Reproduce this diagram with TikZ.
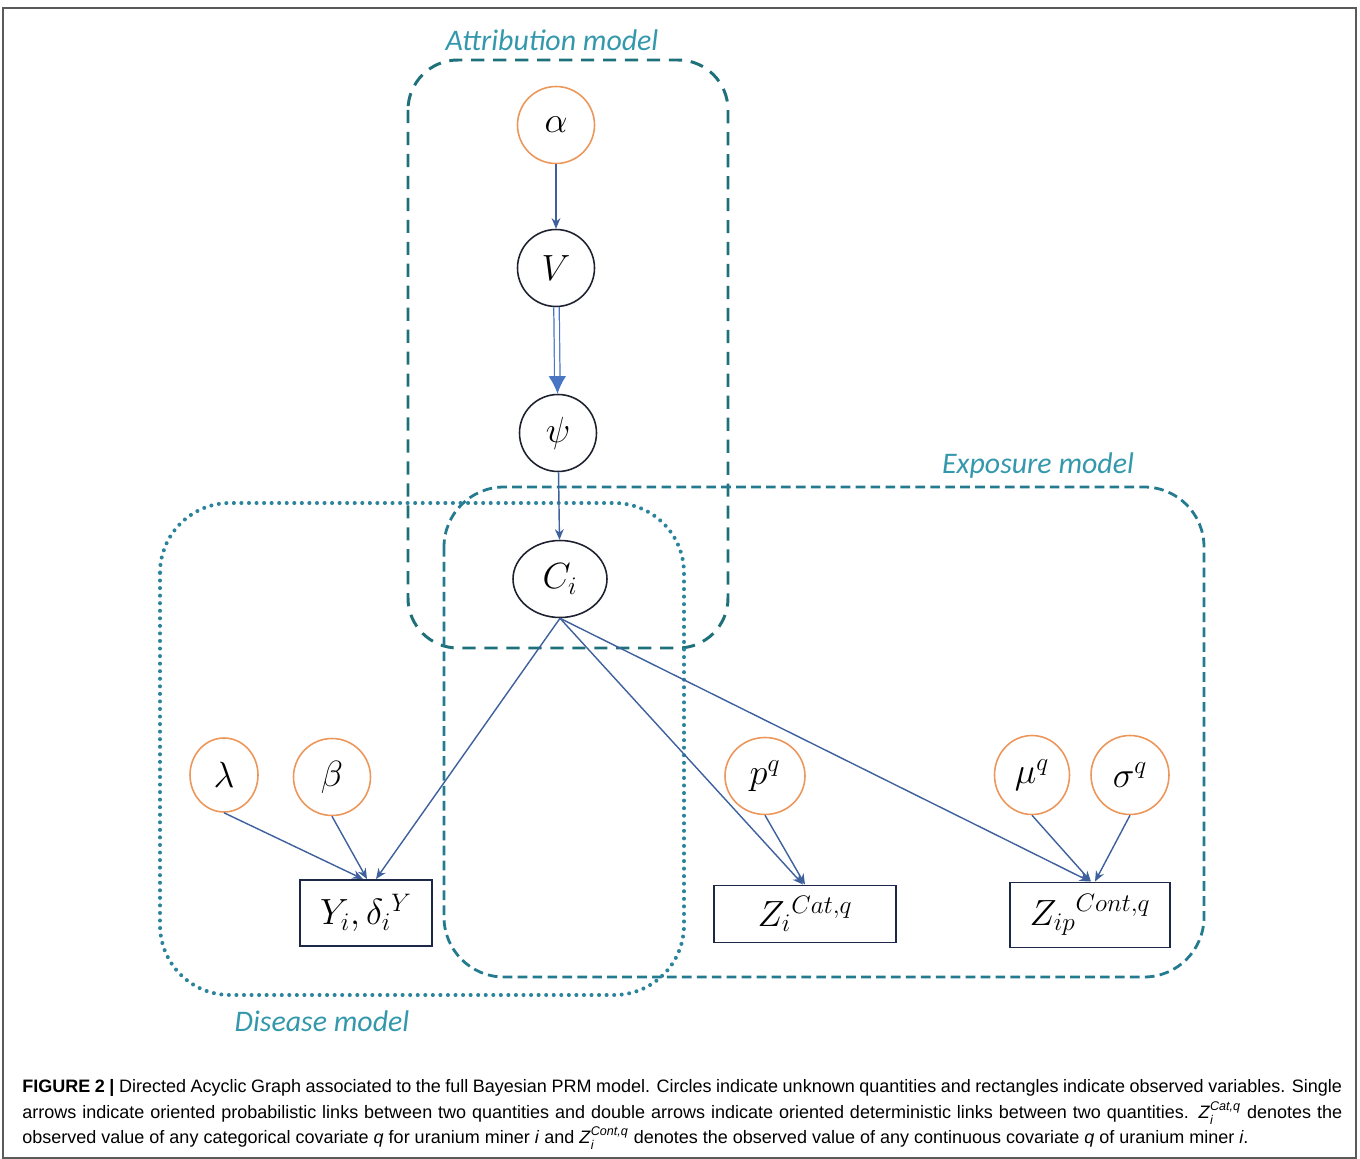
\documentclass[tikz,border=0pt]{standalone}
\usepackage{amsmath}
\usepackage{amssymb}
\usepackage{fontspec}
\newfontfamily\capfont{Liberation Sans}
\newfontfamily\labelfont{Carlito}
\usepackage{tikz}
\usetikzlibrary{shapes,arrows.meta,positioning}

\definecolor{arrowblue}{RGB}{62,96,156}
\definecolor{detblue}{RGB}{72,118,196}
\definecolor{hyperorange}{RGB}{236,150,90}
\definecolor{nodeblack}{RGB}{30,34,48}
\definecolor{boxnavy}{RGB}{28,40,70}
\definecolor{attrteal}{RGB}{30,112,122}
\definecolor{expoteal}{RGB}{36,122,142}
\definecolor{distteal}{RGB}{44,132,156}
\definecolor{labelteal}{RGB}{52,152,172}
\definecolor{framegray}{RGB}{90,90,90}

\newcommand\capZ[1]{\textit{Z}$^{\text{\itshape #1}}_{\text{\itshape i}}$}

\begin{document}
\begin{tikzpicture}[x=0.02cm,y=-0.02cm]
\useasboundingbox (0,0) rectangle (1360,1159);

\tikzstyle{unk}=[ellipse,draw=nodeblack,line width=0.9pt,inner sep=0pt,minimum width=1.54cm,minimum height=1.54cm,font=\fontsize{20}{22}\selectfont]
\tikzstyle{hyper}=[unk,draw=hyperorange]
\tikzstyle{obs}=[rectangle,draw=boxnavy,line width=1.1pt,inner sep=0pt,font=\fontsize{20}{22}\selectfont]
\tikzstyle{prob}=[draw=arrowblue,line width=0.8pt,-{Stealth[length=6pt,width=5pt]}]
\tikzstyle{det}=[draw=detblue,double,double distance=2.4pt,line width=0.7pt,-{Latex[length=10pt,width=10pt]}]
\tikzstyle{grplabel}=[text=labelteal,font=\labelfont\itshape\fontsize{17}{19}\selectfont]
\tikzstyle{capline}=[anchor=west,inner sep=0pt,font=\capfont\fontsize{10.25}{12}\selectfont]

\draw[framegray,line width=1.1pt] (3,8) rectangle (1356,1158);

% plates
\draw[attrteal,line width=1.7pt,dash pattern=on 7.5pt off 5pt,rounded corners=1cm] (408,60) rectangle (728,648);
\draw[expoteal,line width=1.6pt,dash pattern=on 5.5pt off 3pt,rounded corners=1.2cm] (444,487) rectangle (1204,977);
\draw[distteal,line width=2.3pt,dash pattern=on 0pt off 4.3pt,line cap=round,rounded corners=1.4cm] (160,503) rectangle (684,995);

\node (attr) at (552,40) [grplabel] {Attribution model};
\node (expo) at (1038,466) [grplabel] {Exposure model};
\node (dise) at (322,1021) [grplabel] {Disease model};

% unknown quantities
\node (alpha) at (556,125) [hyper] {$\alpha$};
\node (V) at (556,268) [unk] {$V$};
\node (psi) at (558,433) [unk] {$\psi$};
\node (C) at (560,579) [unk,minimum width=1.88cm] {$C_i$};
\node (lambda) at (224,775) [hyper,minimum width=1.36cm,minimum height=1.48cm] {$\lambda$};
\node (beta) at (332,777) [hyper] {$\beta$};
\node (p) at (765,776) [hyper,minimum width=1.6cm] {$p^q$};
\node (mu) at (1032,775) [hyper,minimum width=1.5cm,minimum height=1.58cm] {$\mu^q$};
\node (sigma) at (1130,775) [hyper,minimum width=1.56cm,minimum height=1.58cm] {$\sigma^q$};

% observed variables
\node (Y) at (366,913) [obs,minimum width=2.64cm,minimum height=1.32cm] {$Y_i,\delta_i{}^{Y}$};
\node (Zcat) at (805,914) [obs,minimum width=3.64cm,minimum height=1.14cm] {$Z_i{}^{Cat,q}$};
\node (Zcont) at (1090,915) [obs,minimum width=3.2cm,minimum height=1.3cm] {$Z_{ip}{}^{Cont,q}$};

\draw[prob] (alpha) -- (V);
\draw[det] (V) -- (psi);
\draw[prob] (psi) -- (C);
\draw[prob] (C.south) -- ([xshift=0.2cm]Y.north);
\draw[prob] (lambda.south) -- ([xshift=-0.06cm]Y.north);
\draw[prob] (beta.south) -- ([xshift=0.02cm]Y.north);
\draw[prob] (C.south) -- ([xshift=-0.04cm]Zcat.north);
\draw[prob] (p.south) -- (Zcat.north);
\draw[prob] (C.south) -- (Zcont.north);
\draw[prob] (mu.south) -- ([xshift=0.02cm]Zcont.north);
\draw[prob] (sigma.south) -- ([xshift=0.1cm]Zcont.north);

% caption
\node (cap1) at (22,1088) [capline] {\makebox[26.4cm][s]{\textbf{FIGURE 2 |} Directed Acyclic Graph associated to the full Bayesian PRM model. Circles indicate unknown quantities and rectangles indicate observed variables. Single}};
\node (cap2) at (22,1113) [capline] {\makebox[26.4cm][s]{arrows indicate oriented probabilistic links between two quantities and double arrows indicate oriented deterministic links between two quantities. \capZ{Cat,q} denotes the}};
\node (cap3) at (22,1138) [capline] {observed value of any categorical covariate \textit{q} for uranium miner \textit{i} and \capZ{Cont,q} denotes the observed value of any continuous covariate \textit{q} of uranium miner \textit{i}.};

\end{tikzpicture}
\end{document}
